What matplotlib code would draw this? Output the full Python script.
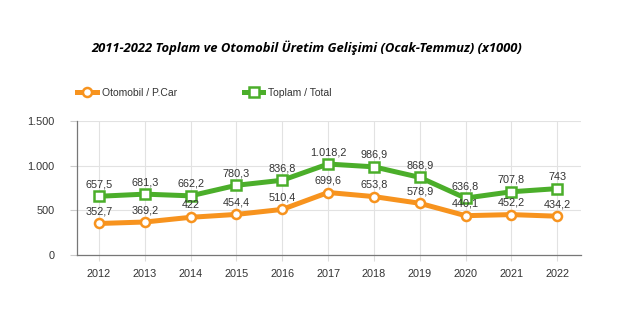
import matplotlib.pyplot as plt

plt.rcParams['font.family'] = ['Liberation Sans', 'DejaVu Sans']

years = ['2012', '2013', '2014', '2015', '2016', '2017', '2018', '2019', '2020', '2021', '2022']
otomobil = [352.7, 369.2, 422, 454.4, 510.4, 699.6, 653.8, 578.9, 440.1, 452.2, 434.2]
toplam = [657.5, 681.3, 662.2, 780.3, 836.8, 1018.2, 986.9, 868.9, 636.8, 707.8, 743]
yticks = [0, 500, 1000, 1500]
ytick_labels = ['0', '500', '1.000', '1.500']

orange = '#F7931E'
green = '#4BAE2A'


def fmt(v):
    s = f'{v:,.1f}'.replace(',', 'X').replace('.', ',').replace('X', '.')
    if s.endswith(',0'):
        s = s[:-2]
    return s


fig = plt.figure(figsize=(6.2, 3.26), dpi=100)
ax = fig.add_axes([77 / 620, 1 - 255 / 326, (581 - 77) / 620, (255 - 121) / 326])

x = list(range(len(years)))
ax.plot(x, otomobil, color=orange, lw=3.6, marker='o', ms=6.5, mfc='white',
        mec=orange, mew=1.8, zorder=3, label='Otomobil / P.Car')
ax.plot(x, toplam, color=green, lw=3.6, marker='s', ms=6.5, mfc='white',
        mec=green, mew=1.8, zorder=3, label='Toplam / Total')

for xi, v in zip(x, otomobil):
    ax.annotate(fmt(v), (xi, v), xytext=(0, 5), textcoords='offset points',
                ha='center', va='bottom', fontsize=7.8, color='#333333', zorder=4)
for xi, v in zip(x, toplam):
    ax.annotate(fmt(v), (xi, v), xytext=(0, 5), textcoords='offset points',
                ha='center', va='bottom', fontsize=7.8, color='#333333', zorder=4)

ax.set_xlim(-0.48, 10.52)
ax.set_ylim(0, 1500)
ax.set_xticks(x)
ax.set_xticklabels(years)
ax.set_yticks(yticks)
ax.set_yticklabels(ytick_labels)
ax.tick_params(labelsize=7.8, colors='#333333', width=0.8)
ax.tick_params(axis='x', pad=6, length=4, color='#dddddd')
ax.tick_params(axis='y', pad=11, length=5, color='#cccccc')
ax.grid(True, color='#e2e2e2', lw=0.8)
ax.set_axisbelow(True)
for side in ['top', 'right']:
    ax.spines[side].set_visible(False)
for side in ['left', 'bottom']:
    ax.spines[side].set_color('#777777')
    ax.spines[side].set_linewidth(0.9)

fig.text(307 / 620, 1 - 48 / 326, '2011-2022 Toplam ve Otomobil Üretim Gelişimi (Ocak-Temmuz) (x1000)',
         ha='center', va='center', fontsize=9.4, fontweight='bold', style='italic',
         family=['Open Sans', 'DejaVu Sans'])

leg = fig.legend(loc='center left', bbox_to_anchor=(68 / 620, 1 - 93 / 326), ncol=2,
                 frameon=False, fontsize=7.5, handlelength=1.9, columnspacing=6.4,
                 handletextpad=0.45)
for t in leg.get_texts():
    t.set_color('#333333')

fig.savefig('out.png', dpi=100)
